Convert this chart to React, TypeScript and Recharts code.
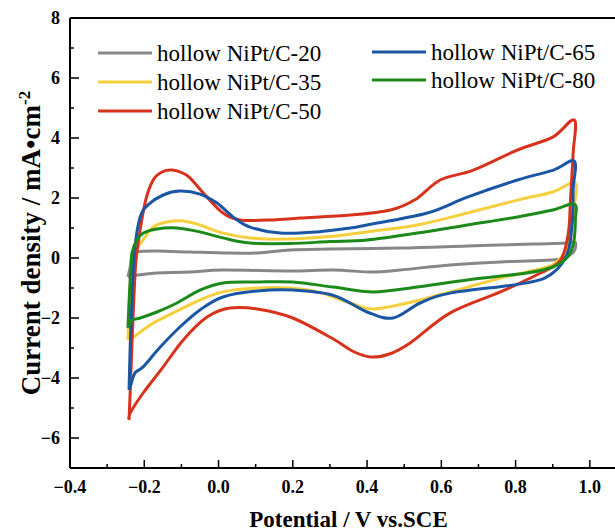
import React from 'react';
import { LineChart, Line, XAxis, YAxis, ReferenceLine, Legend } from 'recharts';

// potential (V vs. SCE), current density (mA/cm2) pairs, one closed CV loop each
const c20: [number, number][] = [
  [-0.244, -0.63], [-0.236, -0.2], [-0.233, 0.03], [-0.22, 0.2], [-0.166, 0.23], [-0.077, 0.2],
  [0.012, 0.17], [0.104, 0.17], [0.193, 0.27], [0.3, 0.3], [0.489, 0.33], [0.67, 0.4],
  [0.848, 0.47], [0.94, 0.5], [0.958, 0.53], [0.962, 0.45], [0.956, 0.2], [0.93, 0.0],
  [0.894, -0.07], [0.759, -0.13], [0.624, -0.23], [0.489, -0.4], [0.417, -0.47], [0.309, -0.4],
  [0.193, -0.43], [0.012, -0.4], [-0.077, -0.47], [-0.166, -0.5], [-0.22, -0.57], [-0.244, -0.63],
];

const c35: [number, number][] = [
  [-0.244, -2.73], [-0.24, -1.5], [-0.235, -0.3], [-0.225, 0.2], [-0.203, 0.6], [-0.176, 1.03],
  [-0.139, 1.2], [-0.095, 1.23], [-0.05, 1.1], [0.012, 0.83], [0.085, 0.67], [0.174, 0.63],
  [0.3, 0.72], [0.4, 0.87], [0.535, 1.1], [0.67, 1.5], [0.805, 1.93], [0.9, 2.2], [0.961, 2.5],
  [0.955, 1.5], [0.948, 0.93], [0.94, 0.37], [0.921, 0.0], [0.886, -0.3], [0.759, -0.67],
  [0.624, -1.13], [0.508, -1.5], [0.417, -1.7], [0.355, -1.5], [0.266, -1.13], [0.193, -1.0],
  [0.104, -1.0], [0.012, -1.13], [-0.05, -1.4], [-0.122, -1.83], [-0.176, -2.17], [-0.211, -2.47],
  [-0.238, -2.73],
];

const c50: [number, number][] = [
  [-0.241, -5.4], [-0.238, -4.5], [-0.232, -2.5], [-0.226, -0.8], [-0.22, 0.17], [-0.198, 1.83],
  [-0.176, 2.6], [-0.15, 2.88], [-0.125, 2.93], [-0.1, 2.85], [-0.077, 2.67], [-0.031, 2.03],
  [0.012, 1.5], [0.058, 1.27], [0.147, 1.27], [0.22, 1.33], [0.355, 1.43], [0.463, 1.6],
  [0.53, 1.95], [0.597, 2.6], [0.686, 2.93], [0.805, 3.6], [0.9, 4.03], [0.958, 4.6],
  [0.955, 3.5], [0.948, 2.0], [0.942, 0.83], [0.921, -0.07], [0.867, -0.5], [0.759, -1.13],
  [0.624, -1.83], [0.516, -2.83], [0.46, -3.2], [0.409, -3.3], [0.36, -3.1], [0.309, -2.7],
  [0.2, -2.0], [0.104, -1.7], [0.031, -1.67], [-0.031, -1.97], [-0.095, -2.73],
  [-0.149, -3.63], [-0.203, -4.5], [-0.238, -5.17], [-0.241, -5.4],
];

const c65: [number, number][] = [
  [-0.241, -4.4], [-0.238, -3.0], [-0.232, -1.0], [-0.225, 0.37], [-0.211, 1.37], [-0.19, 1.77],
  [-0.149, 2.1], [-0.104, 2.23], [-0.05, 2.13], [-0.004, 1.83], [0.039, 1.37], [0.085, 1.03],
  [0.166, 0.83], [0.266, 0.87], [0.355, 1.0], [0.4, 1.1], [0.562, 1.5], [0.67, 2.03],
  [0.805, 2.6], [0.902, 2.93], [0.958, 3.23], [0.955, 2.3], [0.953, 1.27], [0.94, 0.17],
  [0.9, -0.5], [0.83, -0.83], [0.624, -1.17], [0.543, -1.5], [0.47, -2.0], [0.4, -1.8],
  [0.31, -1.25], [0.2, -1.07], [0.104, -1.1], [0.012, -1.3], [-0.05, -1.73], [-0.104, -2.3],
  [-0.157, -2.97], [-0.203, -3.63], [-0.225, -3.83], [-0.238, -4.3], [-0.241, -4.4],
];

const c80: [number, number][] = [
  [-0.244, -2.33], [-0.24, -1.2], [-0.236, -0.3], [-0.233, 0.17], [-0.22, 0.6], [-0.203, 0.83],
  [-0.166, 0.97], [-0.112, 1.0], [-0.05, 0.87], [0.012, 0.67], [0.085, 0.5], [0.193, 0.48],
  [0.3, 0.55], [0.4, 0.6], [0.535, 0.83], [0.67, 1.1], [0.805, 1.37], [0.9, 1.6], [0.958, 1.8],
  [0.961, 1.27], [0.956, 0.5], [0.94, 0.03], [0.9, -0.3], [0.83, -0.5], [0.67, -0.73],
  [0.535, -0.97], [0.417, -1.13], [0.309, -0.97], [0.2, -0.8], [0.104, -0.8], [0.012, -0.83],
  [-0.05, -1.07], [-0.112, -1.5], [-0.166, -1.8], [-0.211, -2.0], [-0.233, -2.07], [-0.244, -2.33],
];

const seriesNames = [
  'hollow NiPt/C-20',
  'hollow NiPt/C-35',
  'hollow NiPt/C-50',
  'hollow NiPt/C-65',
  'hollow NiPt/C-80',
];
const seriesColors = ['#878787', '#F5CF3D', '#D7321C', '#1A56A3', '#1B8A1B'];
const seriesPoints = [c20, c35, c50, c65, c80];

const xTicks = [-0.4, -0.3, -0.2, -0.1, 0, 0.1, 0.2, 0.3, 0.4, 0.5, 0.6, 0.7, 0.8, 0.9, 1.0];
const yTicks = [-6, -5, -4, -3, -2, -1, 0, 1, 2, 3, 4, 5, 6, 7, 8];

const FONT = "'Liberation Serif', 'Times New Roman', serif";

const series = seriesNames.map((name, i) => ({
  name,
  color: seriesColors[i],
  data: seriesPoints[i].map(([x, y]) => ({ x, y })),
}));

// cardinal spline that follows the points in drawing order (CV loops go back on themselves)
const loopCurve = (context: any) => {
  let pts: [number, number][] = [];
  return {
    areaStart() {},
    areaEnd() {},
    lineStart() {
      pts = [];
    },
    point(x: number, y: number) {
      pts.push([+x, +y]);
    },
    lineEnd() {
      if (!pts.length) return;
      context.moveTo(pts[0][0], pts[0][1]);
      for (let i = 0; i < pts.length - 1; i++) {
        const p0 = pts[Math.max(i - 1, 0)];
        const p1 = pts[i];
        const p2 = pts[i + 1];
        const p3 = pts[Math.min(i + 2, pts.length - 1)];
        context.bezierCurveTo(
          p1[0] + (p2[0] - p0[0]) / 6,
          p1[1] + (p2[1] - p0[1]) / 6,
          p2[0] - (p3[0] - p1[0]) / 6,
          p2[1] - (p3[1] - p1[1]) / 6,
          p2[0],
          p2[1]
        );
      }
    },
  };
};

const XTick = ({ x, y, payload }: any) => {
  const v = payload.value;
  const major = Math.abs(Math.round(v * 10)) % 2 === 0;
  return (
    <g>
      <line x1={x} x2={x} y1={y} y2={y - (major ? 8 : 4)} stroke="#000" strokeWidth={1.5} />
      {major && (
        <text x={x} y={y + 25} textAnchor="middle" fontFamily={FONT} fontWeight="bold" fontSize={18} fill="#000">
          {v.toFixed(1).replace('-', '\u2212')}
        </text>
      )}
    </g>
  );
};

const YTick = ({ x, y, payload }: any) => {
  const v = payload.value;
  const major = v % 2 === 0;
  return (
    <g>
      <line x1={x} x2={x + (major ? 9 : 4)} y1={y} y2={y} stroke="#000" strokeWidth={1.5} />
      {major && (
        <text x={x - 10} y={y + 6} textAnchor="end" fontFamily={FONT} fontWeight="bold" fontSize={18} fill="#000">
          {String(v).replace('-', '\u2212')}
        </text>
      )}
    </g>
  );
};

const YTitle = ({ viewBox }: any) => {
  const cy = viewBox.y + viewBox.height / 2;
  return (
    <text
      transform={`translate(40, ${cy}) rotate(-90)`}
      textAnchor="middle"
      fontFamily={FONT}
      fontWeight="bold"
      fontSize={27}
      fill="#000"
    >
      Current density / mA•cm
      <tspan dy={-10} fontSize={17}>
        -2
      </tspan>
    </text>
  );
};

const renderLegend = (props: { payload?: Array<{ value: string; color: string }> }) => {
  const { payload } = props;
  if (!payload) return null;
  const colX = [98, 372];
  const rowY = [
    [53, 82, 111],
    [52, 80],
  ];
  return (
    <svg width={615} height={130} style={{ display: 'block' }}>
      {payload.map((entry, index) => {
        const col = index < 3 ? 0 : 1;
        const row = index < 3 ? index : index - 3;
        const lx = colX[col];
        const ly = rowY[col][row];
        return (
          <g key={index}>
            <line x1={lx} x2={lx + 54} y1={ly} y2={ly} stroke={entry.color} strokeWidth={3} />
            <text x={lx + 59} y={ly + 8} fontFamily={FONT} fontSize={23} fill="#000">
              {entry.value}
            </text>
          </g>
        );
      })}
    </svg>
  );
};

export default function App() {
  return (
    <div
      style={{
        position: 'fixed',
        left: 0,
        top: 0,
        width: 615,
        height: 532,
        overflow: 'hidden',
        background: '#fff',
      }}
    >
      <LineChart width={627} height={532} margin={{ top: 18, right: 0, bottom: 0, left: 0 }}>
        <XAxis
          type="number"
          dataKey="x"
          domain={[-0.4, 1.1]}
          ticks={xTicks}
          allowDataOverflow
          height={64}
          tickSize={0}
          tickMargin={0}
          tickLine={false}
          tick={<XTick />}
          axisLine={{ stroke: '#000', strokeWidth: 2 }}
          label={{
            value: 'Potential / V vs.SCE',
            position: 'insideBottom',
            offset: 5,
            fontFamily: FONT,
            fontWeight: 'bold',
            fontSize: 23,
            fill: '#000',
          }}
        />
        <YAxis
          type="number"
          domain={[-7, 8]}
          ticks={yTicks}
          allowDataOverflow
          width={70}
          tickSize={0}
          tickMargin={0}
          tickLine={false}
          tick={<YTick />}
          axisLine={{ stroke: '#000', strokeWidth: 2 }}
          label={<YTitle />}
        />
        <ReferenceLine y={8} stroke="#000" strokeWidth={2} />
        {series.map((s) => (
          <Line
            key={s.name}
            data={s.data}
            dataKey="y"
            name={s.name}
            stroke={s.color}
            strokeWidth={3}
            strokeLinejoin="round"
            type={loopCurve as any}
            dot={false}
            activeDot={false}
            isAnimationActive={false}
          />
        ))}
        <Legend
          layout="horizontal"
          verticalAlign="middle"
          align="center"
          content={renderLegend as any}
          wrapperStyle={{ top: 0, left: 0, width: 615, height: 130 }}
        />
      </LineChart>
    </div>
  );
}
